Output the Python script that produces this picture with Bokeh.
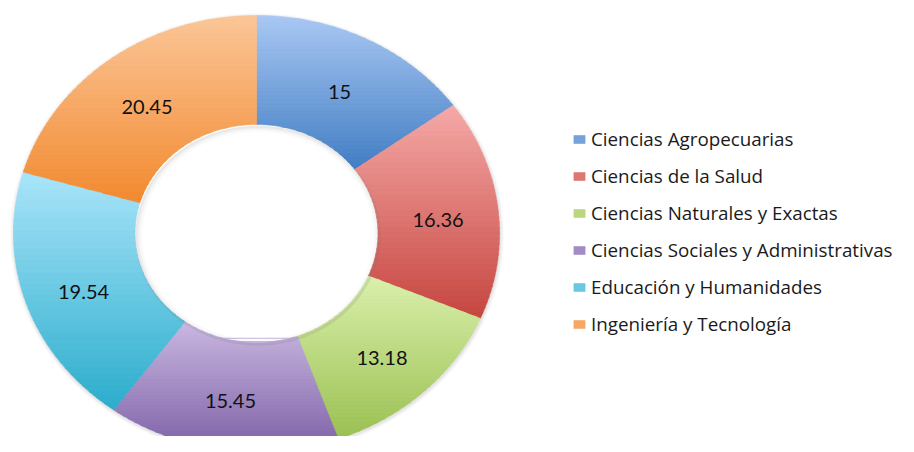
import numpy as np
from bokeh.plotting import figure
from bokeh.models import Range1d, Legend, LegendItem, ColumnDataSource
from bokeh.core.properties import value
from bokeh.embed import file_html
from bokeh.resources import INLINE

categories = ["Ciencias Agropecuarias", "Ciencias de la Salud", "Ciencias Naturales y Exactas",
              "Ciencias Sociales y Administrativas", "Educación y Humanidades", "Ingeniería y Tecnología"]
values = [15, 16.36, 13.18, 15.45, 19.54, 20.45]
labels = ["15", "16.36", "13.18", "15.45", "19.54", "20.45"]

top_colors = [(170, 200, 243), (245, 170, 168), (218, 240, 172), (202, 184, 226), (170, 229, 250), (251, 198, 152)]
bottom_colors = [(66, 126, 196), (198, 70, 64), (155, 192, 82), (126, 98, 166), (44, 173, 204), (242, 138, 48)]

W, H = 898, 436
CX, CY = 256, 233      # centre in figure pixels (from top)
RX, RY = 243, 218      # outer radii in pixels
R_IN = 0.5
N_BANDS = 40

p = figure(width=W, height=H, output_backend="svg", toolbar_location=None,
           x_range=Range1d(-CX / RX, (W - CX) / RX),
           y_range=Range1d(-(H - CY) / RY, CY / RY),
           min_border=0, outline_line_color=None)
p.axis.visible = False
p.grid.visible = False
p.background_fill_color = "white"


def clip(poly, y0, keep_above):
    out = []
    n = len(poly)
    for i in range(n):
        a = poly[i]
        b = poly[(i + 1) % n]
        ina = a[1] >= y0 if keep_above else a[1] <= y0
        inb = b[1] >= y0 if keep_above else b[1] <= y0
        if ina:
            out.append(a)
        if ina != inb:
            t = (y0 - a[1]) / (b[1] - a[1])
            out.append((a[0] + t * (b[0] - a[0]), y0))
    return out


def ring(r_out, r_in, dx=0.0, dy=0.0):
    th = np.linspace(0, 2 * np.pi, 240)
    ox = list(np.cos(th) * r_out + dx)
    oy = list(np.sin(th) * r_out + dy)
    ix = list(np.cos(th) * r_in + dx)
    iy = list(np.sin(th) * r_in + dy)
    return [[ox, ix]], [[oy, iy]]


# soft outer shadow
for px_, al in [(4, 0.04), (3, 0.05), (2, 0.06), (1, 0.08)]:
    xs, ys = ring(1 + px_ / RX, 0.98, 0.002, -0.006)
    p.multi_polygons([xs], [ys], fill_color="#808080", fill_alpha=al, line_color=None)

total = sum(values)
cum = np.cumsum([0] + values)
legend_items = []
label_x, label_y = [], []
for i, v in enumerate(values):
    a0 = np.pi / 2 - 2 * np.pi * cum[i] / total
    a1 = np.pi / 2 - 2 * np.pi * cum[i + 1] / total
    th = np.linspace(a0, a1, 120)
    poly = [(np.cos(t), np.sin(t)) for t in th] + [(R_IN * np.cos(t), R_IN * np.sin(t)) for t in th[::-1]]
    ys = [q[1] for q in poly]
    ytop, ybot = max(ys), min(ys)
    edges = np.linspace(ytop, ybot, N_BANDS + 1)
    bx, by, bc = [], [], []
    for b in range(N_BANDS):
        hi, lo = edges[b], edges[b + 1]
        sub = clip(poly, hi + 0.002, False)
        sub = clip(sub, lo - 0.002, True) if sub else sub
        if len(sub) < 3:
            continue
        f = (b + 0.5) / N_BANDS
        c = tuple(int(round(top_colors[i][j] + f * (bottom_colors[i][j] - top_colors[i][j]))) for j in range(3))
        bx.append([q[0] for q in sub])
        by.append([q[1] for q in sub])
        bc.append("#%02x%02x%02x" % c)
    src = ColumnDataSource(dict(xs=bx, ys=by, c=bc))
    r = p.patches("xs", "ys", source=src, fill_color="c", line_color="c", line_width=0.6)
    legend_items.append(LegendItem(label=categories[i], renderers=[r], index=len(bx) // 2))
    mid = (a0 + a1) / 2
    label_x.append(0.752 * np.cos(mid))
    label_y.append(0.755 * np.sin(mid) - 0.023)

# inner shadow just inside the hole
for px_, al in [(6, 0.03), (4, 0.04), (2.5, 0.05), (1.2, 0.07)]:
    xs, ys = ring(R_IN + 0.004, R_IN - px_ / RX, 0.006, -0.01)
    p.multi_polygons([xs], [ys], fill_color="#808080", fill_alpha=al, line_color=None)

p.text(label_x, label_y, text=labels, text_align="center", text_baseline="middle",
       text_font=value("Lato"), text_font_size="20px", text_color="#111111")

legend = Legend(items=legend_items, location=(572, 99), orientation="vertical",
                glyph_width=14, glyph_height=10, label_height=27, spacing=10, label_standoff=5,
                padding=0, margin=0, border_line_color=None, background_fill_alpha=0,
                label_text_font="Open Sans", label_text_font_size="18.8px", label_text_color="#1a1a1a")
p.add_layout(legend)

open("out.html", "w").write(file_html(p, INLINE))
